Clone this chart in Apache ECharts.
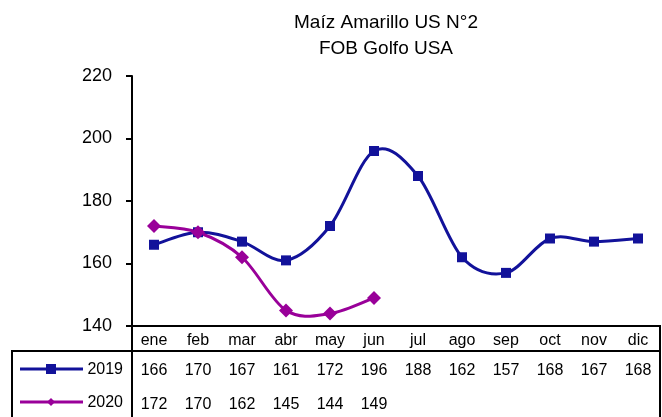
<!DOCTYPE html>
<html><head><meta charset="utf-8">
<script src="https://cdn.jsdelivr.net/npm/echarts@6/dist/echarts.min.js"></script>
<style>html,body{margin:0;padding:0;background:#fff}#c{width:662px;height:417px}</style>
</head><body><div id="c"></div>
<script>
const titleLines = ['Maíz Amarillo US N°2', 'FOB Golfo USA'];
const months = ['ene','feb','mar','abr','may','jun','jul','ago','sep','oct','nov','dic'];
const seriesNames = ['2019', '2020'];
const values2019 = [166,170,167,161,172,196,188,162,157,168,167,168];
const values2020 = [172,170,162,145,144,149];
const yTicks = [140,160,180,200,220];

const FONT = '"Liberation Sans",Arial,sans-serif';
const C19 = '#12129a', C20 = '#990099';
const chart = echarts.init(document.getElementById('c'), null, {renderer:'canvas'});
const G = {left:132, right:2, top:76, bottom:91};
const lineStyle = {color:'#000', width:2};
function rowAxis(vals, offset){
  return {type:'category', data:months, position:'bottom', offset:offset, gridIndex:0,
    axisLine:{show:false}, axisTick:{show:false},
    axisLabel:{margin:7, color:'#000', fontFamily:FONT, fontSize:16, interval:0,
      formatter:(v,i)=> (vals[i]!==undefined? String(vals[i]) : '')}};
}
// Smooth curve (Catmull-Rom style Bezier) through points given by the axes' scales
function curveSeries(name, vals, color){
  return {name:name, type:'custom', data:vals.map((v,i)=>[i,v]), encode:{x:0,y:1}, z:2, silent:true,
    renderItem:function(params, api){
      if (params.dataIndex !== 0) return null;
      const P = vals.map((v,i)=>api.coord([i, v]));
      const n = P.length;
      let d = 'M' + P[0][0] + ' ' + P[0][1];
      for (let i=0;i<n-1;i++){
        const p0 = P[Math.max(i-1,0)], p1 = P[i], p2 = P[i+1], p3 = P[Math.min(i+2,n-1)];
        const c1x = p1[0] + (p2[0]-p0[0])/6, c1y = p1[1] + (p2[1]-p0[1])/6;
        const c2x = p2[0] - (p3[0]-p1[0])/6, c2y = p2[1] - (p3[1]-p1[1])/6;
        d += ' C' + c1x + ' ' + c1y + ' ' + c2x + ' ' + c2y + ' ' + p2[0] + ' ' + p2[1];
      }
      return {type:'path', shape:{pathData:d}, style:{fill:'none', stroke:color, lineWidth:3}};
    }};
}
chart.setOption({
  animation:false,
  title:{text:titleLines.join('\n'), left:381, textAlign:'center', top:5,
    textStyle:{fontFamily:FONT, fontSize:19, fontWeight:'normal', color:'#000', lineHeight:26}},
  grid:G,
  xAxis:[
    {type:'category', data:months, position:'bottom', boundaryGap:true,
      axisLine:{lineStyle:lineStyle}, axisTick:{show:false},
      axisLabel:{margin:7, color:'#000', fontFamily:FONT, fontSize:16, interval:0}},
    rowAxis(values2019, 30),
    rowAxis(values2020, 64)
  ],
  yAxis:{type:'value', min:yTicks[0], max:yTicks[yTicks.length-1], interval:20,
    axisLine:{show:true, lineStyle:lineStyle}, axisTick:{show:true, inside:false, length:6, lineStyle:lineStyle},
    splitLine:{show:false},
    axisLabel:{margin:20, color:'#000', fontFamily:FONT, fontSize:18}},
  series:[
    curveSeries(seriesNames[0], values2019, C19),
    curveSeries(seriesNames[1], values2020, C20),
    {name:seriesNames[0], type:'scatter', data:values2019, symbol:'rect', symbolSize:10,
      itemStyle:{color:C19, opacity:1}, z:3},
    {name:seriesNames[1], type:'scatter', data:values2020, symbol:'diamond', symbolSize:14,
      itemStyle:{color:C20, opacity:1}, z:4}
  ],
  graphic:[
    {type:'line', shape:{x1:12,y1:351,x2:660,y2:351}, style:{stroke:'#000', lineWidth:2}},
    {type:'line', shape:{x1:12,y1:350,x2:12,y2:417}, style:{stroke:'#000', lineWidth:2}},
    {type:'line', shape:{x1:132,y1:325,x2:132,y2:417}, style:{stroke:'#000', lineWidth:2}},
    {type:'line', shape:{x1:660,y1:325,x2:660,y2:417}, style:{stroke:'#000', lineWidth:2}},
    {type:'line', shape:{x1:20,y1:369,x2:83,y2:369}, style:{stroke:C19, lineWidth:3}},
    {type:'rect', shape:{x:46,y:364,width:10,height:10}, style:{fill:C19}},
    {type:'text', style:{text:seriesNames[0], x:123, y:370, align:'right', verticalAlign:'middle', font:'16px '+FONT, fill:'#000'}},
    {type:'line', shape:{x1:20,y1:402,x2:83,y2:402}, style:{stroke:C20, lineWidth:3}},
    {type:'polygon', shape:{points:[[51,398],[55,402],[51,406],[47,402]]}, style:{fill:C20}},
    {type:'text', style:{text:seriesNames[1], x:123, y:403, align:'right', verticalAlign:'middle', font:'16px '+FONT, fill:'#000'}}
  ]
});
</script></body></html>
